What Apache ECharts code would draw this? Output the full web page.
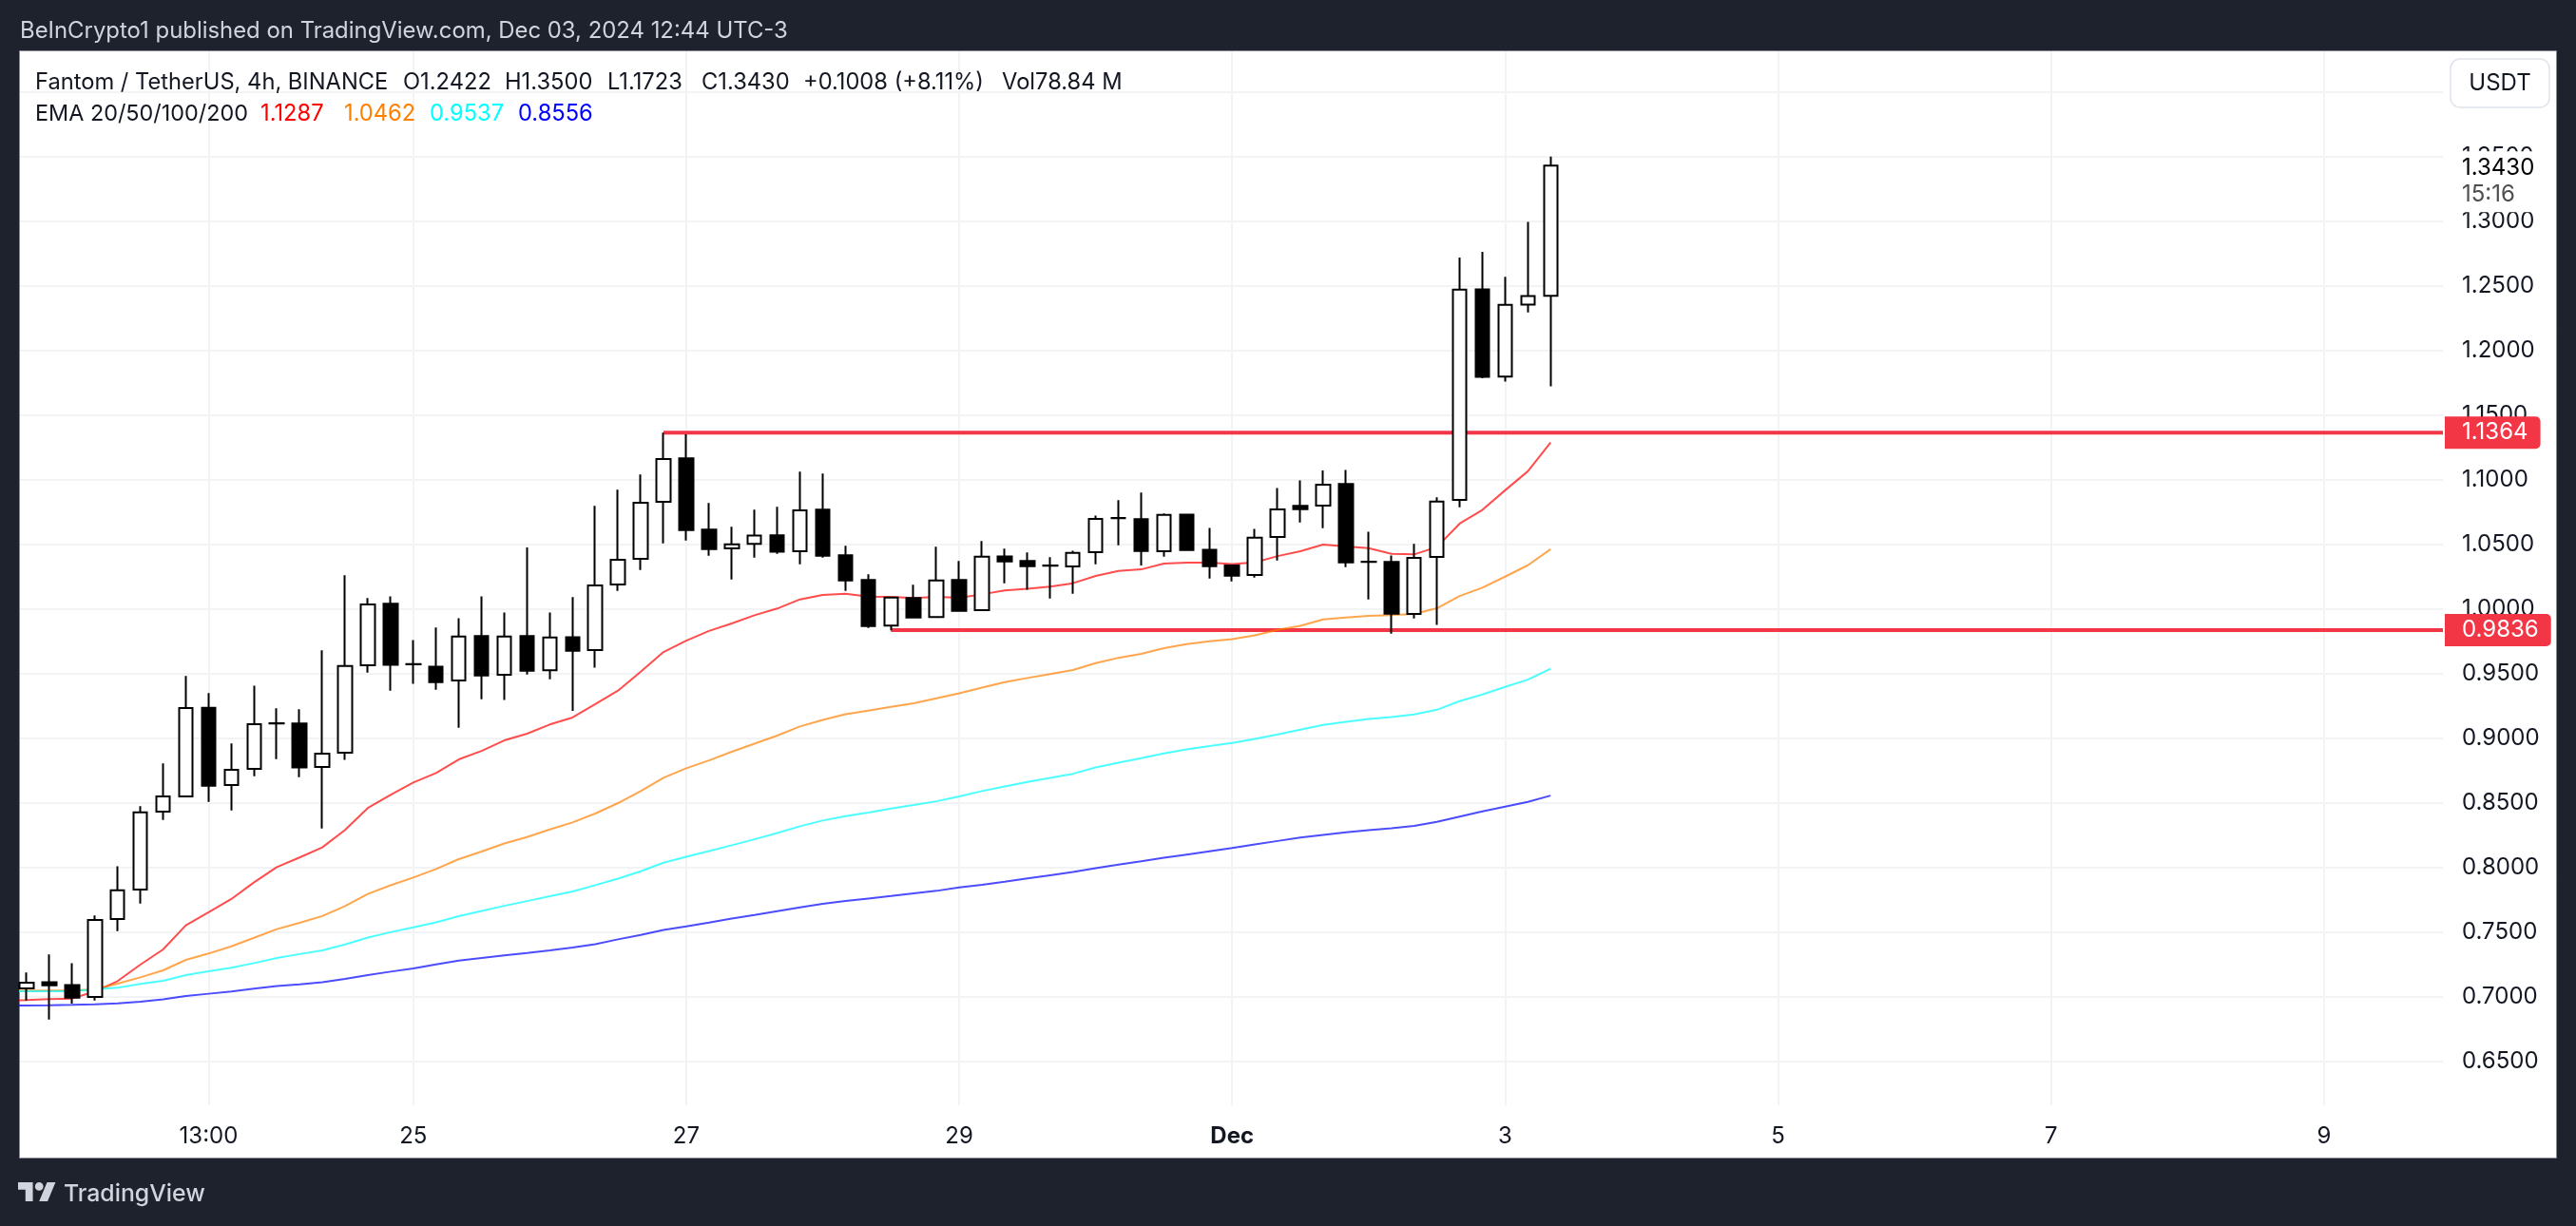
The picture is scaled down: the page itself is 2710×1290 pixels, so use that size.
<!DOCTYPE html>
<html>
<head>
<meta charset="utf-8">
<title>Fantom / TetherUS</title>
<script src="https://cdn.jsdelivr.net/npm/echarts@6/dist/echarts.min.js"></script>
<style>
    html, body {margin: 0; padding: 0; background: #1e222d; overflow: hidden;}
    #charts {width: 2710px; height: 1290px;}
</style>
</head>
<body>
<div id="charts"></div>
<script>
// 4h candles, first visible bar is index 0
const opens = [
    0.7064, 0.7113, 0.7091, 0.6998, 0.7601, 0.7829, 0.8432, 0.8550, 0.9236, 0.8638, 0.8763, 0.9116,
    0.9113, 0.8778, 0.8888, 0.9564, 1.0040, 0.9574, 0.9554, 0.9447, 0.9790, 0.9491, 0.9790, 0.9525,
    0.9782, 0.9682, 1.0189, 1.0388, 1.0829, 1.1165, 1.0613, 1.0469, 1.0503, 1.0569, 1.0447, 1.0768,
    1.0415, 1.0224, 0.9871, 1.0084, 0.9937, 1.0224, 0.9991, 1.0407, 1.0371, 1.0336, 1.0328, 1.0439,
    1.0703, 1.0694, 1.0446, 1.0730, 1.0458, 1.0336, 1.0262, 1.0556, 1.0797, 1.0799, 1.0966, 1.0366,
    1.0363, 0.9961, 1.0402, 1.0843, 1.2473, 1.1797, 1.2354, 1.2422
];
const closes = [
    0.7108, 0.7089, 0.6993, 0.7594, 0.7824, 0.8427, 0.8550, 0.9233, 0.8633, 0.8756, 0.9108, 0.9114,
    0.8773, 0.8881, 0.9559, 1.0035, 0.9567, 0.9572, 0.9434, 0.9787, 0.9486, 0.9787, 0.9522, 0.9780,
    0.9677, 1.0182, 1.0380, 1.0822, 1.1160, 1.0611, 1.0464, 1.0500, 1.0567, 1.0442, 1.0763, 1.0412,
    1.0221, 0.9868, 1.0089, 0.9934, 1.0221, 0.9986, 1.0405, 1.0368, 1.0331, 1.0334, 1.0434, 1.0696,
    1.0702, 1.0449, 1.0728, 1.0456, 1.0331, 1.0257, 1.0551, 1.0770, 1.0772, 1.0961, 1.0360, 1.0364,
    0.9963, 1.0395, 1.0830, 1.2471, 1.1795, 1.2352, 1.2420, 1.3430
];
const lows = [
    0.6971, 0.6824, 0.6947, 0.6971, 0.7508, 0.7721, 0.8368, 0.8550, 0.8508, 0.8442, 0.8706, 0.8839,
    0.8699, 0.8302, 0.8832, 0.9508, 0.9368, 0.9420, 0.9375, 0.9081, 0.9302, 0.9295, 0.9493, 0.9456,
    0.9211, 0.9545, 1.0140, 1.0302, 1.0508, 1.0530, 1.0412, 1.0228, 1.0397, 1.0427, 1.0346, 1.0397,
    1.0140, 0.9853, 0.9834, 0.9934, 0.9937, 0.9986, 0.9991, 1.0199, 1.0148, 1.0081, 1.0118, 1.0346,
    1.0493, 1.0336, 1.0404, 1.0456, 1.0235, 1.0213, 1.0243, 1.0375, 1.0669, 1.0625, 1.0324, 1.0074,
    0.9809, 0.9927, 0.9876, 1.0786, 1.1784, 1.1759, 1.2293, 1.1723
];
const highs = [
    0.7187, 0.7327, 0.7260, 0.7628, 0.8010, 0.8474, 0.8805, 0.9481, 0.9349, 0.8959, 0.9407, 0.9231,
    0.9224, 0.9680, 1.0260, 1.0084, 1.0098, 0.9760, 0.9856, 0.9929, 1.0098, 0.9973, 1.0476, 0.9973,
    1.0091, 1.0797, 1.0922, 1.1040, 1.1364, 1.1350, 1.0819, 1.0635, 1.0768, 1.0790, 1.1062, 1.1047,
    1.0488, 1.0268, 1.0089, 1.0187, 1.0481, 1.0371, 1.0525, 1.0466, 1.0437, 1.0400, 1.0451, 1.0723,
    1.0841, 1.0900, 1.0738, 1.0730, 1.0627, 1.0343, 1.0620, 1.0936, 1.0995, 1.1071, 1.1076, 1.0598,
    1.0414, 1.0503, 1.0864, 1.2718, 1.2762, 1.2569, 1.2994, 1.3500
];

// EMAs start one bar earlier (index -1) so the lines reach the left edge
const ema20 = [
    0.6971, 0.6974, 0.6981, 0.6986, 0.7040, 0.7121, 0.7248, 0.7366, 0.7552, 0.7653, 0.7756, 0.7885,
    0.8003, 0.8077, 0.8155, 0.8290, 0.8460, 0.8562, 0.8657, 0.8731, 0.8836, 0.8902, 0.8983, 0.9035,
    0.9106, 0.9160, 0.9263, 0.9368, 0.9515, 0.9667, 0.9755, 0.9830, 0.9888, 0.9951, 1.0003, 1.0074,
    1.0108, 1.0118, 1.0096, 1.0094, 1.0084, 1.0094, 1.0086, 1.0113, 1.0143, 1.0157, 1.0172, 1.0199,
    1.0255, 1.0294, 1.0306, 1.0351, 1.0358, 1.0358, 1.0348, 1.0360, 1.0409, 1.0446, 1.0498, 1.0483,
    1.0471, 1.0427, 1.0422, 1.0479, 1.0660, 1.0766, 1.0918, 1.1065, 1.1287
];
const ema50 = [
    0.7045, 0.7046, 0.7047, 0.7048, 0.7057, 0.7101, 0.7150, 0.7204, 0.7285, 0.7334, 0.7390, 0.7456,
    0.7523, 0.7572, 0.7624, 0.7701, 0.7795, 0.7862, 0.7922, 0.7988, 0.8064, 0.8123, 0.8186, 0.8235,
    0.8294, 0.8348, 0.8417, 0.8498, 0.8591, 0.8694, 0.8767, 0.8828, 0.8895, 0.8958, 0.9020, 0.9091,
    0.9142, 0.9186, 0.9213, 0.9243, 0.9270, 0.9309, 0.9348, 0.9392, 0.9434, 0.9466, 0.9497, 0.9527,
    0.9581, 0.9622, 0.9652, 0.9696, 0.9728, 0.9750, 0.9767, 0.9796, 0.9838, 0.9870, 0.9919, 0.9934,
    0.9946, 0.9953, 0.9961, 1.0005, 1.0100, 1.0164, 1.0250, 1.0338, 1.0462
];
const ema100 = [
    0.7042, 0.7042, 0.7042, 0.7043, 0.7059, 0.7069, 0.7099, 0.7123, 0.7167, 0.7197, 0.7224, 0.7260,
    0.7300, 0.7330, 0.7358, 0.7405, 0.7458, 0.7499, 0.7537, 0.7576, 0.7623, 0.7664, 0.7703, 0.7740,
    0.7777, 0.7814, 0.7863, 0.7914, 0.7971, 0.8037, 0.8083, 0.8127, 0.8172, 0.8218, 0.8267, 0.8319,
    0.8363, 0.8397, 0.8424, 0.8456, 0.8483, 0.8512, 0.8550, 0.8591, 0.8627, 0.8662, 0.8693, 0.8725,
    0.8774, 0.8811, 0.8845, 0.8882, 0.8914, 0.8939, 0.8963, 0.8995, 0.9029, 0.9066, 0.9103, 0.9127,
    0.9149, 0.9164, 0.9184, 0.9220, 0.9287, 0.9338, 0.9397, 0.9453, 0.9537
];
const ema200 = [
    0.6932, 0.6932, 0.6934, 0.6937, 0.6942, 0.6949, 0.6961, 0.6979, 0.7006, 0.7023, 0.7040, 0.7062,
    0.7082, 0.7096, 0.7113, 0.7138, 0.7167, 0.7194, 0.7218, 0.7250, 0.7279, 0.7299, 0.7319, 0.7338,
    0.7358, 0.7380, 0.7407, 0.7444, 0.7478, 0.7517, 0.7544, 0.7573, 0.7605, 0.7632, 0.7662, 0.7691,
    0.7718, 0.7740, 0.7760, 0.7779, 0.7799, 0.7819, 0.7845, 0.7866, 0.7890, 0.7915, 0.7940, 0.7965,
    0.7995, 0.8022, 0.8048, 0.8075, 0.8100, 0.8125, 0.8150, 0.8178, 0.8205, 0.8232, 0.8252, 0.8272,
    0.8289, 0.8304, 0.8321, 0.8353, 0.8394, 0.8434, 0.8470, 0.8507, 0.8556
];

// support / resistance: value and the bar where the line starts
const levelValues = [1.1364, 0.9836];
const levelStarts = [28, 38];

const lastPrice = 1.3430;
const countdown = '15:16';

const yTicks = [0.65, 0.70, 0.75, 0.80, 0.85, 0.90, 0.95, 1.00, 1.05, 1.10, 1.15, 1.20, 1.25, 1.30, 1.35, 1.40];
const yLabels = [0.65, 0.70, 0.75, 0.80, 0.85, 0.90, 0.95, 1.00, 1.05, 1.10, 1.15, 1.20, 1.25, 1.30, 1.35];
const xTickBars = [8, 17, 29, 41, 53, 65, 77, 89, 101];
const xTickLabels = ['13:00', '25', '27', '29', 'Dec', '3', '5', '7', '9'];

const headerText = 'BeInCrypto1 published on TradingView.com, Dec 03, 2024 12:44 UTC-3';
const symbolText = 'Fantom / TetherUS, 4h, BINANCE';
const ohlcText = ['O1.2422', 'H1.3500', 'L1.1723', 'C1.3430', '+0.1008 (+8.11%)', 'Vol78.84 M'];
const emaTitle = 'EMA 20/50/100/200';
const emaLegend = ['1.1287', '1.0462', '0.9537', '0.8556'];

const FONT = 'Inter, "Noto Sans", sans-serif';
const INK = '#131722';
const RED = '#f23645';
const GRID = '#f2f3f5';
const X_MIN = -0.2925;
const X_MAX = 106.23;

const candleData = opens.map((o, i) => [i, o, closes[i], lows[i], highs[i]]);
const withBars = (list) => list.map((v, i) => [i - 1, v]);

function emaSeries(name, values, color) {
    return {
        name: name,
        type: 'line',
        z: 3,
        data: withBars(values),
        showSymbol: false,
        silent: true,
        lineStyle: {color: color, width: 2, opacity: 0.7}
    };
}

function levelSeries(index) {
    return {
        name: 'level' + index,
        type: 'line',
        z: 2,
        clip: false,
        data: [[levelStarts[index], levelValues[index]], [X_MAX, levelValues[index]]],
        showSymbol: false,
        silent: true,
        lineStyle: {color: RED, width: 4},
        endLabel: {
            show: true,
            distance: 2,
            formatter: levelValues[index].toFixed(4),
            color: '#ffffff',
            fontFamily: FONT,
            fontSize: 24,
            lineHeight: 22,
            backgroundColor: RED,
            borderRadius: [0, 5, 5, 0],
            padding: [6, 13, 6, 18]
        }
    };
}

function text(str, x, y, size, fill, extra) {
    return {
        type: 'text',
        x: x,
        y: y,
        z: 20,
        silent: true,
        style: Object.assign({
            text: str,
            fontFamily: FONT,
            fontSize: size,
            fill: fill,
            textVerticalAlign: 'middle'
        }, extra || {})
    };
}

const option = {
    backgroundColor: '#1e222d',
    animation: false,
    grid: {left: 21, right: 140, top: 54, bottom: 127},
    xAxis: {
        type: 'value',
        min: X_MIN,
        max: X_MAX,
        axisLine: {show: false},
        axisTick: {show: false, customValues: xTickBars},
        splitLine: {show: true, lineStyle: {color: GRID, width: 2}},
        axisLabel: {
            customValues: xTickBars,
            margin: 21,
            color: INK,
            fontFamily: FONT,
            fontSize: 24,
            formatter: (val) => {
                const label = xTickLabels[xTickBars.indexOf(val)];
                return label === 'Dec' ? '{b|Dec}' : label;
            },
            rich: {b: {fontWeight: 'bold', fontFamily: FONT, fontSize: 24, color: INK}}
        }
    },
    yAxis: {
        type: 'value',
        position: 'right',
        min: 0.616,
        max: 1.4314,
        axisLine: {show: false},
        axisTick: {show: false, customValues: yTicks},
        splitLine: {show: true, lineStyle: {color: GRID, width: 2}},
        axisLabel: {
            customValues: yLabels,
            margin: 20,
            color: INK,
            fontFamily: FONT,
            fontSize: 24,
            formatter: (val) => val.toFixed(4)
        }
    },
    series: [
        levelSeries(0),
        levelSeries(1),
        emaSeries('EMA 20', ema20, '#ff0000'),
        emaSeries('EMA 50', ema50, '#ff7f00'),
        emaSeries('EMA 100', ema100, '#00ffff'),
        emaSeries('EMA 200', ema200, '#0000ff'),
        {
            name: 'Fantom / TetherUS',
            type: 'candlestick',
            z: 4,
            data: candleData,
            barWidth: 15,
            silent: true,
            itemStyle: {
                color: '#ffffff',
                color0: '#000000',
                borderColor: '#000000',
                borderColor0: '#000000',
                borderWidth: 2
            }
        },
        {
            name: 'last price',
            type: 'line',
            z: 5,
            clip: false,
            data: [[X_MAX - 1, lastPrice], [X_MAX, lastPrice]],
            showSymbol: false,
            silent: true,
            lineStyle: {opacity: 0},
            endLabel: {
                show: true,
                distance: 2,
                offset: [0, 17],
                formatter: '{p|' + lastPrice.toFixed(4) + '}\n{t|' + countdown + '}',
                backgroundColor: '#ffffff',
                padding: [4, 13, 4, 18],
                rich: {
                    p: {fontFamily: FONT, fontSize: 24, color: '#000000', lineHeight: 28},
                    t: {fontFamily: FONT, fontSize: 24, color: '#4f4f4f', lineHeight: 28}
                }
            }
        }
    ],
    graphic: {
        elements: [
            // white panel behind the plot
            {
                type: 'rect',
                z: -10,
                silent: true,
                shape: {x: 20.5, y: 53.5, width: 2669, height: 1165},
                style: {fill: '#ffffff', stroke: '#868993', lineWidth: 1}
            },
            text(headerText, 21, 33, 23.9, '#d1d4dc'),
            text(symbolText, 37, 87, 23.7, INK),
            text(ohlcText[0], 424, 87, 23.7, INK),
            text(ohlcText[1], 531, 87, 23.7, INK),
            text(ohlcText[2], 639, 87, 23.7, INK),
            text(ohlcText[3], 738, 87, 23.7, INK),
            text(ohlcText[4], 845, 87, 23.7, INK),
            text(ohlcText[5], 1054, 87, 23.7, INK),
            text(emaTitle, 37, 120, 23.4, INK),
            text(emaLegend[0], 274, 120, 23.7, '#ff0000'),
            text(emaLegend[1], 362, 120, 23.7, '#ff7f00'),
            text(emaLegend[2], 452, 120, 23.7, '#00ffff'),
            text(emaLegend[3], 545, 120, 23.7, '#0000ff'),
            // USDT button
            {
                type: 'rect',
                z: 20,
                silent: true,
                shape: {x: 2578, y: 62, width: 104, height: 51, r: 10},
                style: {fill: '#ffffff', stroke: '#e0e3eb', lineWidth: 1.5}
            },
            text('USDT', 2630, 88, 24, INK, {textAlign: 'center'}),
            // TradingView footer logo
            {
                type: 'polygon',
                z: 20,
                silent: true,
                x: 19,
                y: 1239.5,
                scaleX: 1.11,
                scaleY: 1.11,
                shape: {points: [[0, 4], [14, 4], [14, 22], [7, 22], [7, 11], [0, 11]]},
                style: {fill: '#d1d4dc'}
            },
            {
                type: 'polygon',
                z: 20,
                silent: true,
                x: 19,
                y: 1239.5,
                scaleX: 1.11,
                scaleY: 1.11,
                shape: {points: [[20, 22], [28, 22], [35.5, 4], [27.5, 4]]},
                style: {fill: '#d1d4dc'}
            },
            {
                type: 'circle',
                z: 20,
                silent: true,
                shape: {cx: 41.2, cy: 1248.4, r: 4.4},
                style: {fill: '#d1d4dc'}
            },
            text('TradingView', 67, 1257, 24.8, '#d1d4dc', {fontWeight: 500})
        ]
    }
};

const chart = echarts.init(document.getElementById('charts'));
chart.setOption(option);
</script>
</body>
</html>
